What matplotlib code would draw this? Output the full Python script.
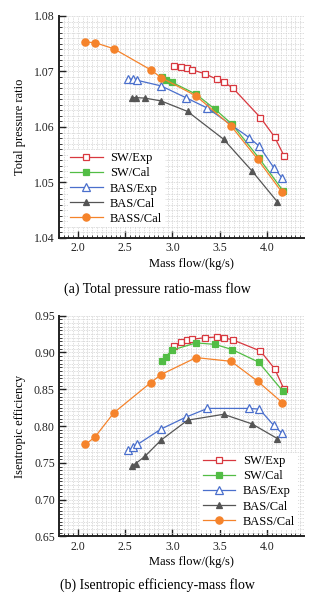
import matplotlib
matplotlib.use('Agg')
import matplotlib.pyplot as plt
from matplotlib.ticker import MultipleLocator

plt.rcParams['font.family'] = ['Liberation Serif', 'Noto Sans CJK SC']

# series names
labels = ['SW/Exp', 'SW/Cal', 'BAS/Exp', 'BAS/Cal', 'BASS/Cal']

# SW experiment
sw_exp_flow = [3.02, 3.09, 3.15, 3.21, 3.34, 3.47, 3.54, 3.64, 3.93, 4.08, 4.18]
sw_exp_pr = [1.0710, 1.0708, 1.0706, 1.0703, 1.0696, 1.0686, 1.0681, 1.0670, 1.0617, 1.0582, 1.0548]
sw_exp_eff = [0.909, 0.914, 0.917, 0.918, 0.920, 0.921, 0.920, 0.917, 0.902, 0.878, 0.850]

# SW calculation
sw_cal_flow = [2.89, 2.93, 2.99, 3.25, 3.45, 3.63, 3.91, 4.17]
sw_cal_pr = [1.0690, 1.0685, 1.0681, 1.0659, 1.0632, 1.0605, 1.0545, 1.0485]
sw_cal_eff = [0.889, 0.894, 0.903, 0.913, 0.911, 0.904, 0.887, 0.847]

# BAS experiment
bas_exp_flow = [2.53, 2.58, 2.63, 2.88, 3.14, 3.37, 3.81, 3.92, 4.07, 4.16]
bas_exp_pr = [1.0687, 1.0686, 1.0684, 1.0674, 1.0653, 1.0634, 1.0581, 1.0565, 1.0527, 1.0508]
bas_exp_eff = [0.767, 0.771, 0.775, 0.796, 0.812, 0.824, 0.824, 0.823, 0.801, 0.790]

# BAS calculation
bas_cal_flow = [2.57, 2.61, 2.71, 2.88, 3.16, 3.54, 3.84, 4.11]
bas_cal_pr = [1.0653, 1.0653, 1.0652, 1.0647, 1.0628, 1.0578, 1.0521, 1.0465]
bas_cal_eff = [0.746, 0.749, 0.759, 0.781, 0.808, 0.816, 0.803, 0.783]

# BASS calculation
bass_cal_flow = [2.08, 2.18, 2.38, 2.77, 2.88, 3.25, 3.62, 3.90, 4.16]
bass_cal_pr = [1.0753, 1.0752, 1.0741, 1.0703, 1.0689, 1.0656, 1.0602, 1.0542, 1.0482]
bass_cal_eff = [0.775, 0.785, 0.818, 0.859, 0.870, 0.893, 0.888, 0.861, 0.832]

colors = ['#d8383f', '#52bd45', '#4a6fcc', '#555555', '#f5832b']
markers = ['s', 's', '^', '^', 'o']
filled = [False, True, False, True, True]
sizes = [5, 4.5, 5.5, 5, 5.2]

flows = [sw_exp_flow, sw_cal_flow, bas_exp_flow, bas_cal_flow, bass_cal_flow]
prs = [sw_exp_pr, sw_cal_pr, bas_exp_pr, bas_cal_pr, bass_cal_pr]
effs = [sw_exp_eff, sw_cal_eff, bas_exp_eff, bas_cal_eff, bass_cal_eff]

fig = plt.figure(figsize=(3.24, 5.99), dpi=100)
ax1 = fig.add_axes([0.182, 0.6027, 0.756, 0.3706])
ax2 = fig.add_axes([0.182, 0.1044, 0.756, 0.3686])


def style_axes(ax, ylo, yhi, ymajor, yminor, yfmt):
    ax.set_xlim(1.8, 4.39)
    ax.set_ylim(ylo, yhi)
    ax.xaxis.set_major_locator(MultipleLocator(0.5))
    ax.xaxis.set_minor_locator(MultipleLocator(0.05))
    ax.yaxis.set_major_locator(MultipleLocator(ymajor))
    ax.yaxis.set_minor_locator(MultipleLocator(yminor))
    ax.yaxis.set_major_formatter(yfmt)
    ax.xaxis.set_major_formatter('{x:.1f}')
    ax.grid(which='both', linestyle=(0, (2, 1.5)), color='#d0d0d0', linewidth=0.5)
    ax.set_axisbelow(True)
    ax.spines['top'].set_visible(False)
    ax.spines['right'].set_visible(False)
    for s in ['left', 'bottom']:
        ax.spines[s].set_linewidth(1.4)
        ax.spines[s].set_color('#222222')
    ax.tick_params(which='major', direction='in', length=5, width=1, labelsize=8.5, colors='#222222', pad=3)
    ax.tick_params(which='minor', direction='in', length=2.5, width=0.6, colors='#222222')
    ax.set_xlabel('Mass flow/(kg/s)', fontsize=9, labelpad=6)
    ax.xaxis.set_label_coords(0.54, -0.09)


def draw(ax, ys):
    for i in range(len(labels)):
        ax.plot(flows[i], ys[i], color=colors[i], marker=markers[i], lw=0.9,
                markersize=sizes[i], markerfacecolor=colors[i] if filled[i] else 'white',
                markeredgecolor=colors[i], markeredgewidth=0.9, label=labels[i])


draw(ax1, prs)
style_axes(ax1, 1.04, 1.08, 0.01, 0.001, '{x:.2f}')
ax1.set_ylabel('Total pressure ratio', fontsize=9, labelpad=6)
ax1.legend(loc='lower left', bbox_to_anchor=(0.01, 0.02), fontsize=9, frameon=True,
           edgecolor='none', facecolor='white', framealpha=1, fancybox=False,
           handlelength=2.6, handletextpad=0.6, labelspacing=0.25, borderpad=0.2)

draw(ax2, effs)
style_axes(ax2, 0.65, 0.95, 0.05, 0.005, '{x:.2f}')
ax2.set_ylabel('Isentropic efficiency', fontsize=9, labelpad=6)
ax2.legend(loc='lower right', bbox_to_anchor=(1.0, 0.0), fontsize=9, frameon=True,
           edgecolor='none', facecolor='white', framealpha=1, fancybox=False,
           handlelength=2.6, handletextpad=0.6, labelspacing=0.25, borderpad=0.2)

fig.text(0.485, 1 - 289 / 599, '(a) Total pressure ratio-mass flow', ha='center', va='center', fontsize=10)
fig.text(0.485, 1 - 585 / 599, '(b) Isentropic efficiency-mass flow', ha='center', va='center', fontsize=10)

fig.savefig('out.png', dpi=100)
